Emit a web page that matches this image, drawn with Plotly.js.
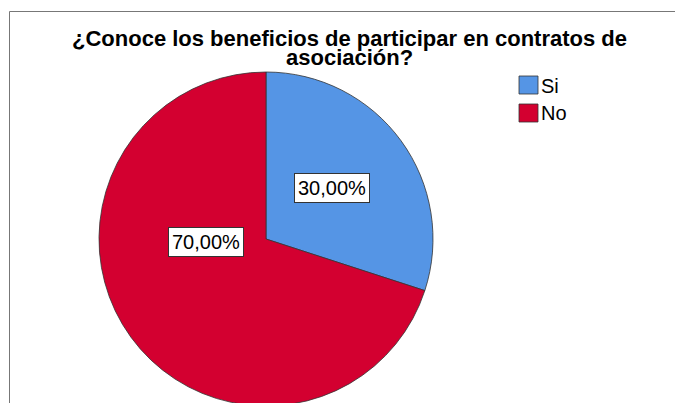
<!DOCTYPE html>
<html>
<head>
<meta charset="utf-8">
<script src="https://cdn.plot.ly/plotly-3.0.1.min.js"></script>
<style>
html,body{margin:0;padding:0;overflow:hidden;background:#fff;}
#chart{width:675px;height:406px;}
</style>
</head>
<body>
<div id="chart"></div>
<script>
// ---- data ----
const categories = ["Si", "No"];
const values = [30, 70];
const colors = ["#5595e5", "#d30030"];
const titleLines = ["¿Conoce los beneficios de participar en contratos de", "asociación?"];

// ---- layout helpers (pixel geometry) ----
const W = 675, H = 406;
const cx = 266, cy = 239, R = 167;
const px = x => x / W;
const py = y => 1 - y / H;

const total = values.reduce((a, b) => a + b, 0);
const fmt = v => (v / total * 100).toFixed(2).replace('.', ',') + '%';

// label placement (angle from 12 o'clock clockwise in degrees, fraction of radius)
const labelPlace = [{ang: 52, frac: 0.50}, {ang: 267, frac: 0.36}];

const annotations = [];
titleLines.forEach((t, i) => {
  annotations.push({
    text: '<b>' + t + '</b>', xref: 'paper', yref: 'paper', x: px(349), y: py(38 + i * 19),
    xanchor: 'center', yanchor: 'middle', showarrow: false, borderpad: 0,
    font: {family: 'Liberation Sans, Arial, sans-serif', size: 22, color: '#000'}
  });
});

values.forEach((v, i) => {
  const a = labelPlace[i].ang * Math.PI / 180;
  const r = labelPlace[i].frac * R;
  annotations.push({
    text: fmt(v), xref: 'paper', yref: 'paper',
    x: px(cx + r * Math.sin(a)), y: py(cy - r * Math.cos(a)),
    xanchor: 'center', yanchor: 'middle', showarrow: false,
    bgcolor: '#ffffff', bordercolor: '#333333', borderwidth: 1, borderpad: 3,
    font: {family: 'Liberation Sans, Arial, sans-serif', size: 20, color: '#000'}
  });
});

// border lines and custom legend
const shapes = [
  {type: 'line', xref: 'paper', yref: 'paper', x0: px(9.5), x1: px(9.5), y0: py(11.5), y1: 0, line: {color: '#777', width: 1}},
  {type: 'line', xref: 'paper', yref: 'paper', x0: px(9.5), x1: 1, y0: py(11.5), y1: py(11.5), line: {color: '#777', width: 1}}
];
categories.forEach((c, i) => {
  const top = 76 + i * 28;
  shapes.push({type: 'rect', xref: 'paper', yref: 'paper',
    x0: px(519), x1: px(538), y0: py(top), y1: py(top + 18),
    fillcolor: colors[i], line: {color: '#333', width: 0.8}});
  annotations.push({text: c, xref: 'paper', yref: 'paper', x: px(539), y: py(top + 9.5),
    xanchor: 'left', yanchor: 'middle', showarrow: false,
    font: {family: 'Liberation Sans, Arial, sans-serif', size: 20, color: '#000'}});
});

const trace = {
  type: 'pie',
  labels: categories,
  values: values,
  sort: false,
  direction: 'clockwise',
  rotation: 0,
  textinfo: 'none',
  hoverinfo: 'label+percent',
  marker: {colors: colors, line: {color: '#333333', width: 0.8}},
  domain: {x: [px(cx - R), px(cx + R)], y: [py(cy + R), py(cy - R)]},
  showlegend: false
};

Plotly.newPlot('chart', [trace], {
  width: W, height: H,
  margin: {l: 0, r: 0, t: 0, b: 0},
  paper_bgcolor: '#fff',
  showlegend: false,
  annotations: annotations,
  shapes: shapes
}, {displayModeBar: false, staticPlot: true});
</script>
</body>
</html>
